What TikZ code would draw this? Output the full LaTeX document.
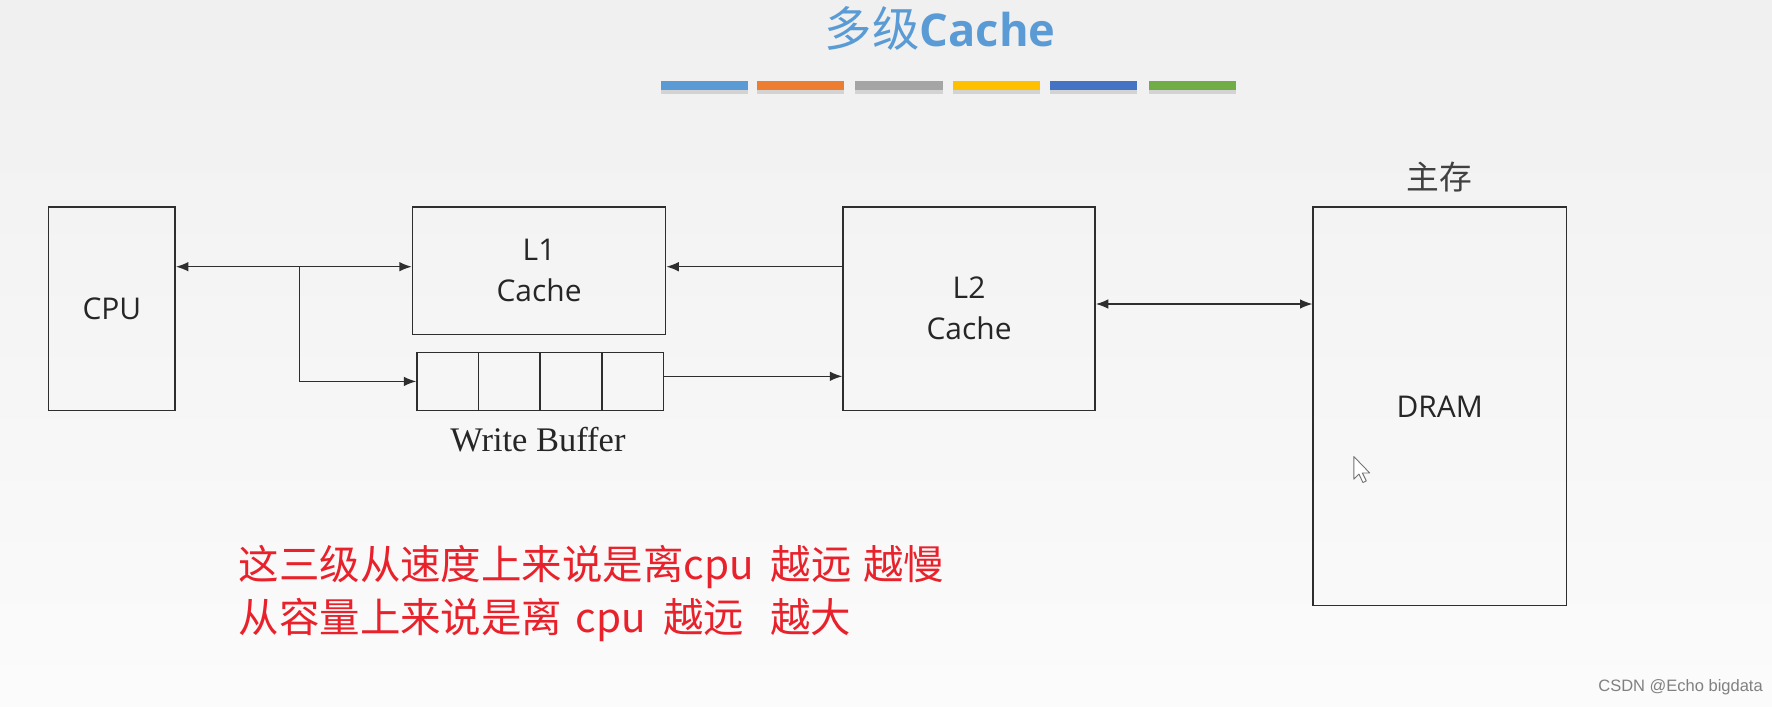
\documentclass[tikz,border=0pt]{standalone}
\usepackage{fontspec}
\setmainfont{Liberation Serif}
\newfontfamily\cjk{Noto Sans CJK SC}
\newfontfamily\osans{Open Sans}
\newfontfamily\lsans{Liberation Sans}
\usetikzlibrary{arrows.meta,calc}
\definecolor{titleblue}{HTML}{5B9BD5}
\definecolor{barblue}{HTML}{5B9BD5}
\definecolor{barorange}{HTML}{ED7D31}
\definecolor{bargray}{HTML}{A5A5A5}
\definecolor{baryellow}{HTML}{FFC000}
\definecolor{bardblue}{HTML}{4472C4}
\definecolor{bargreen}{HTML}{70AD47}
\definecolor{linecol}{HTML}{2E2E2E}
\definecolor{redtext}{HTML}{E8212B}
\tikzset{
  blockbox/.style={draw=linecol, line width=1.3pt, inner sep=0pt, fill=none,
     font=\osans\fontsize{26.5}{36}\selectfont, align=center, text=black!85},
  conn/.style={draw=linecol, line width=1.3pt},
  tipped/.style={conn, -{Latex[length=11pt,width=8.5pt]}},
  bitipped/.style={conn, {Latex[length=11pt,width=8.5pt]}-{Latex[length=11pt,width=8.5pt]}},
  colorbar/.style={draw=none, minimum width=77pt, minimum height=8pt, inner sep=0pt},
}
\begin{document}
\begin{tikzpicture}[x=1pt,y=-1pt]
% background
\path[top color=black!6, bottom color=black!1.5] (0,0) rectangle (1568,625);
\useasboundingbox (0,0) rectangle (1568,625);
% title
\node[text=titleblue, inner sep=0pt] (title) at (832,25)
  {{\cjk\fontsize{42}{46}\selectfont 多级}{\osans\bfseries\fontsize{40}{46}\selectfont Cache}};
% colour bars with soft shadows
\foreach \x/\c [count=\i] in {623.5/barblue,708.5/barorange,795.5/bargray,881.5/baryellow,967.5/bardblue,1055/bargreen}{
  \fill[black, opacity=0.12] (\x-38.5,79) rectangle (\x+38.5,83);
  \node[colorbar, fill=\c] (bar\i) at (\x,76) {};
}
% blocks
\node[blockbox, minimum width=112pt, minimum height=180pt] (cpu) at (99,273) {CPU};
\node[blockbox, minimum width=224pt, minimum height=113pt] (l1) at (477,239.5) {L1\\Cache};
\node[draw=linecol, line width=1.3pt, inner sep=0pt, minimum width=218pt, minimum height=51pt] (wb) at (478,337.5) {};
\foreach \f in {0.25,0.5,0.75}{
  \draw[conn] ($(wb.north west)!\f!(wb.north east)$) -- ($(wb.south west)!\f!(wb.south east)$);
}
\node[inner sep=0pt, font=\fontsize{30.5}{34}\selectfont, text=black!85] (wblabel) at (476,389) {Write Buffer};
\node[blockbox, minimum width=223pt, minimum height=180pt] (l2) at (857.5,273) {L2\\Cache};
\node[blockbox, minimum width=224pt, minimum height=353pt] (dram) at (1274,359.5) {DRAM};
\node[inner sep=0pt, font=\cjk\fontsize{29}{32}\selectfont, text=black!75] (mainmem) at (1274,157) {主存};
% connectors
\coordinate (ytop) at (0,236);
\coordinate (ywb) at (0,333);
\coordinate (ymem) at (0,269);
\coordinate (br) at (265,236);
\draw[bitipped] (cpu.east |- ytop) -- (l1.west |- ytop);
\draw[tipped] (br) |- (wb.west);
\draw[tipped] (l2.west |- ytop) -- (l1.east |- ytop);
\draw[tipped] (wb.east |- ywb) -- (l2.west |- ywb);
\draw[bitipped] (l2.east |- ymem) -- (dram.west |- ymem);
% mouse cursor
\draw[black!55, fill=white, line width=0.8pt, line join=round]
  (1198,404) -- (1198,424) -- (1202.5,419.5) -- (1206,427) -- (1209,425.5) -- (1205.5,418.5) -- (1212,418.5) -- cycle;
% red note
\node[anchor=west, inner sep=0pt, text=redtext, font=\cjk\fontsize{35.8}{40}\selectfont] (note1) at (211,502)
  {这三级从速度上来说是离cpu\hspace{15pt}越远\hspace{10pt}越慢};
\node[anchor=west, inner sep=0pt, text=redtext, font=\cjk\fontsize{35.8}{40}\selectfont] (note2) at (211,549)
  {从容量上来说是离\hspace{12pt}cpu\hspace{15pt}越远\hspace{23pt}越大};
% watermark
\node[anchor=east, inner sep=0pt, text=black!50, font=\lsans\fontsize{14.6}{16}\selectfont] (wm) at (1560,608) {CSDN @Echo bigdata};
\end{tikzpicture}
\end{document}
